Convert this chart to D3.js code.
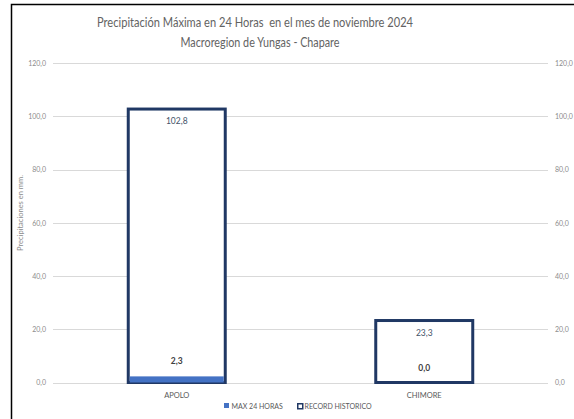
<!DOCTYPE html>
<html>
<head>
<meta charset="utf-8">
<script src="https://cdn.jsdelivr.net/npm/d3@7"></script>
<style>
  body { margin: 0; background: #fff; }
  svg { display: block; font-family: Lato, "Open Sans", sans-serif; }
</style>
</head>
<body>
<div id="chart"></div>
<script>
// chart data
let estaciones = ["APOLO", "CHIMORE"]
let max24Horas = [2.3, 0.0]
let recordHistorico = [102.8, 23.3]
let yTicks = [0, 20, 40, 60, 80, 100, 120]
let titulo = ["Precipitación Máxima en 24 Horas  en el mes de noviembre 2024",
              "Macroregion de Yungas - Chapare"]
let series = ["MAX 24 HORAS", "RECORD HISTORICO"]

let width = 574, height = 419
let fmt = v => d3.format(".1f")(v).replace(".", ",")

let svg = d3.select("#chart")
  .append("svg")
  .attr("width", width)
  .attr("height", height)

// frame lines (top and left)
svg.append("path")
  .attr("d", "M11.5,419 V4.5 H574")
  .attr("fill", "none")
  .attr("stroke", "#000")
  .attr("stroke-width", 1.5)

// title (squeezed a bit, the original font is narrower)
svg.selectAll(".title")
  .data(titulo)
  .enter()
  .append("text")
  .attr("x", (d, i) => i == 0 ? 255 : 260)
  .attr("y", (d, i) => 27 + i * 20)
  .attr("text-anchor", "middle")
  .attr("textLength", (d, i) => i == 0 ? 316 : 159)
  .attr("lengthAdjust", "spacingAndGlyphs")
  .style("white-space", "pre")
  .style("font-size", "12.5px")
  .style("fill", "#636363")
  .text(d => d)

let x = d3.scaleBand()
  .domain(estaciones)
  .range([53, 548])
  .paddingInner(0.6)
  .paddingOuter(0.3)

let y = d3.scaleLinear()
  .domain([0, 120])
  .range([382.5, 63.3])

// gridlines
svg.selectAll(".grid")
  .data(yTicks)
  .enter()
  .append("line")
  .attr("x1", 53)
  .attr("x2", 548)
  .attr("y1", d => Math.round(y(d)) + 0.5)
  .attr("y2", d => Math.round(y(d)) + 0.5)
  .attr("stroke", "#d9d9d9")
  .attr("stroke-width", 1)

// left and right tick labels
let axisL = d3.axisLeft(y).tickValues(yTicks).tickFormat(fmt).tickSize(0).tickPadding(7)
let axisR = d3.axisRight(y).tickValues(yTicks).tickFormat(fmt).tickSize(0).tickPadding(7)
svg.append("g").attr("transform", "translate(53,0)").call(axisL)
svg.append("g").attr("transform", "translate(548,0)").call(axisR)
svg.selectAll(".domain").remove()
svg.selectAll(".tick text")
  .style("font-family", "Lato, sans-serif")
  .style("font-size", "7px")
  .style("fill", "#8c8c8c")

// y axis title
svg.append("text")
  .attr("transform", "translate(23,213) rotate(-90)")
  .attr("text-anchor", "middle")
  .style("font-size", "7.5px")
  .style("fill", "#8c8c8c")
  .text("Precipitaciones en mm.")

// record historico bars (outlined)
svg.selectAll(".rec")
  .data(recordHistorico)
  .enter()
  .append("rect")
  .attr("x", (d, i) => x(estaciones[i]) + 1)
  .attr("y", d => y(d))
  .attr("width", x.bandwidth() - 2)
  .attr("height", d => y(0) - y(d))
  .attr("fill", "#fff")
  .attr("stroke", "#203864")
  .attr("stroke-width", 3)

// max 24 horas bars
svg.selectAll(".max")
  .data(max24Horas)
  .enter()
  .append("rect")
  .attr("x", (d, i) => x(estaciones[i]) + 2.5)
  .attr("y", d => y(d))
  .attr("width", x.bandwidth() - 5)
  .attr("height", d => y(0) - y(d))
  .attr("fill", "#4472c4")

// value labels
svg.selectAll(".recLabel")
  .data(recordHistorico)
  .enter()
  .append("text")
  .attr("x", (d, i) => x(estaciones[i]) + x.bandwidth() / 2)
  .attr("y", d => y(d) + 15)
  .attr("text-anchor", "middle")
  .style("font-size", "8.5px")
  .style("fill", "#44546a")
  .text(fmt)

svg.selectAll(".maxLabel")
  .data(max24Horas)
  .enter()
  .append("text")
  .attr("x", (d, i) => x(estaciones[i]) + x.bandwidth() / 2)
  .attr("y", d => y(d) - 12)
  .attr("text-anchor", "middle")
  .style("font-size", "8.5px")
  .style("font-weight", "bold")
  .style("fill", "#404040")
  .text(fmt)

// category labels
svg.selectAll(".cat")
  .data(estaciones)
  .enter()
  .append("text")
  .attr("x", d => x(d) + x.bandwidth() / 2)
  .attr("y", 398)
  .attr("text-anchor", "middle")
  .style("font-size", "7.5px")
  .style("fill", "#595959")
  .text(d => d)

// legend
let legX = [224, 297]
let leg = svg.selectAll(".leg")
  .data(series)
  .enter()
  .append("g")
  .attr("transform", (d, i) => `translate(${legX[i]},403)`)
leg.append("rect")
  .attr("x", (d, i) => i == 0 ? 0 : 0.75)
  .attr("y", (d, i) => i == 0 ? 0 : 0.75)
  .attr("width", 5)
  .attr("height", 5)
  .attr("fill", (d, i) => i == 0 ? "#4472c4" : "#fff")
  .attr("stroke", (d, i) => i == 0 ? "none" : "#203864")
  .attr("stroke-width", 1.5)
leg.append("text")
  .attr("x", 7.5)
  .attr("y", 5.5)
  .style("font-size", "7px")
  .style("fill", "#595959")
  .text(d => d)
</script>
</body>
</html>
